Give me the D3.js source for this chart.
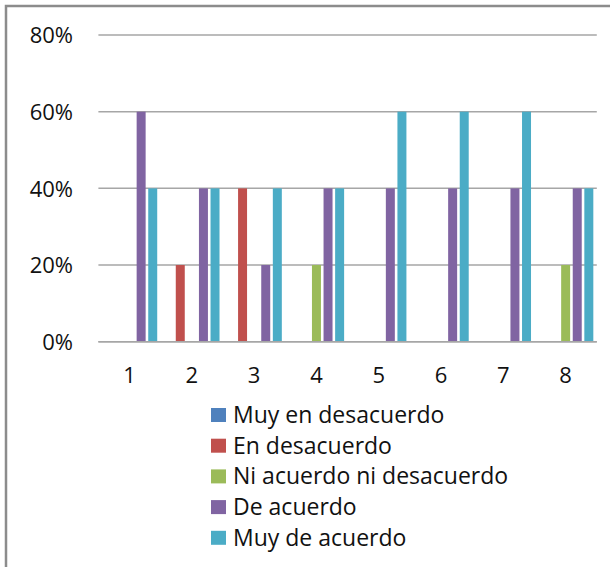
<!DOCTYPE html>
<html>
<head>
<meta charset="utf-8">
<script src="https://cdn.jsdelivr.net/npm/d3@7"></script>
<style>
  html, body { margin: 0; padding: 0; background: #fff; }
  svg { display: block; }
  text { font-family: "Open Sans", "Liberation Sans", sans-serif; fill: #111; }
</style>
</head>
<body>
<svg id="chart" width="610" height="567"></svg>
<script>
// Survey answers per item (share of respondents)
const categories = ["1", "2", "3", "4", "5", "6", "7", "8"];
const seriesNames = ["Muy en desacuerdo", "En desacuerdo", "Ni acuerdo ni desacuerdo", "De acuerdo", "Muy de acuerdo"];
const muyEnDesacuerdo = [0, 0, 0, 0, 0, 0, 0, 0];
const enDesacuerdo    = [0, 0.2, 0.4, 0, 0, 0, 0, 0];
const niAcuerdo       = [0, 0, 0, 0.2, 0, 0, 0, 0.2];
const deAcuerdo       = [0.6, 0.4, 0.2, 0.4, 0.4, 0.4, 0.4, 0.4];
const muyDeAcuerdo    = [0.4, 0.4, 0.4, 0.4, 0.6, 0.6, 0.6, 0.4];
const yTicks = [0, 0.2, 0.4, 0.6, 0.8];
const colors = ["#4F81BD", "#C0504D", "#9BBB59", "#8064A2", "#4BACC6"];

const seriesValues = [muyEnDesacuerdo, enDesacuerdo, niAcuerdo, deAcuerdo, muyDeAcuerdo];
const fontFamily = "'Open Sans', 'Liberation Sans', sans-serif";

const svg = d3.select("#chart");

// Outer frame (top and left edges visible)
svg.append("path")
  .attr("d", "M6,567 L6,6 L610,6")
  .attr("fill", "none")
  .attr("stroke", "#8c8c8c")
  .attr("stroke-width", 2.5);

const plot = { left: 98.4, right: 596.8, top: 35, bottom: 341.7 };

const x0 = d3.scaleBand().domain(categories).range([plot.left, plot.right]).padding(0);
const groupInset = x0.bandwidth() * 0.035;
const x1 = d3.scaleBand().domain(d3.range(seriesNames.length))
  .range([groupInset, x0.bandwidth() - groupInset]).padding(0);
const y = d3.scaleLinear().domain([0, 0.8]).range([plot.bottom, plot.top]);

// Horizontal gridlines
svg.append("g")
  .selectAll("line")
  .data(yTicks)
  .join("line")
  .attr("x1", plot.left)
  .attr("x2", plot.right)
  .attr("y1", d => y(d))
  .attr("y2", d => y(d))
  .attr("stroke", "#a6a6a6")
  .attr("stroke-width", 1.5);

// Y axis labels
const yAxis = d3.axisLeft(y).tickValues(yTicks).tickFormat(d3.format(".0%")).tickSize(0).tickPadding(0);
const yg = svg.append("g").attr("transform", `translate(73,0)`).call(yAxis);
yg.select(".domain").remove();
yg.selectAll("text")
  .attr("font-size", 22)
  .attr("font-family", fontFamily)
  .attr("fill", "#111")
  .attr("dy", "0.35em");

// Bars
const barGap = 2.6;
const groups = svg.append("g")
  .selectAll("g")
  .data(categories)
  .join("g")
  .attr("transform", d => `translate(${x0(d)},0)`);

groups.selectAll("rect")
  .data((c, ci) => seriesValues.map((vals, si) => ({ si, v: vals[ci] })).filter(d => d.v > 0))
  .join("rect")
  .attr("x", d => x1(d.si) + barGap / 2)
  .attr("width", x1.bandwidth() - barGap)
  .attr("y", d => y(d.v))
  .attr("height", d => y(0) - y(d.v))
  .attr("fill", d => colors[d.si]);

// Baseline
svg.append("line")
  .attr("x1", plot.left).attr("x2", plot.right)
  .attr("y1", y(0)).attr("y2", y(0))
  .attr("stroke", "#a6a6a6").attr("stroke-width", 1.5);

// X axis labels
const xAxis = d3.axisBottom(x0).tickSize(0).tickPadding(0);
const xg = svg.append("g").attr("transform", `translate(0,${plot.bottom})`).call(xAxis);
xg.select(".domain").remove();
xg.selectAll("text")
  .attr("font-size", 22)
  .attr("font-family", fontFamily)
  .attr("fill", "#111")
  .attr("dy", null)
  .attr("y", 41);

// Legend
const legend = svg.append("g").attr("transform", "translate(211,404)");
const rowH = 30.7;
const items = legend.selectAll("g")
  .data(seriesNames)
  .join("g")
  .attr("transform", (d, i) => `translate(0,${i * rowH})`);
items.append("rect")
  .attr("x", 0).attr("y", 4)
  .attr("width", 15).attr("height", 14)
  .attr("fill", (d, i) => colors[i]);
items.append("text")
  .attr("x", 22).attr("y", 11)
  .attr("dy", "0.35em")
  .attr("font-size", 23)
  .text(d => d);
</script>
</body>
</html>
